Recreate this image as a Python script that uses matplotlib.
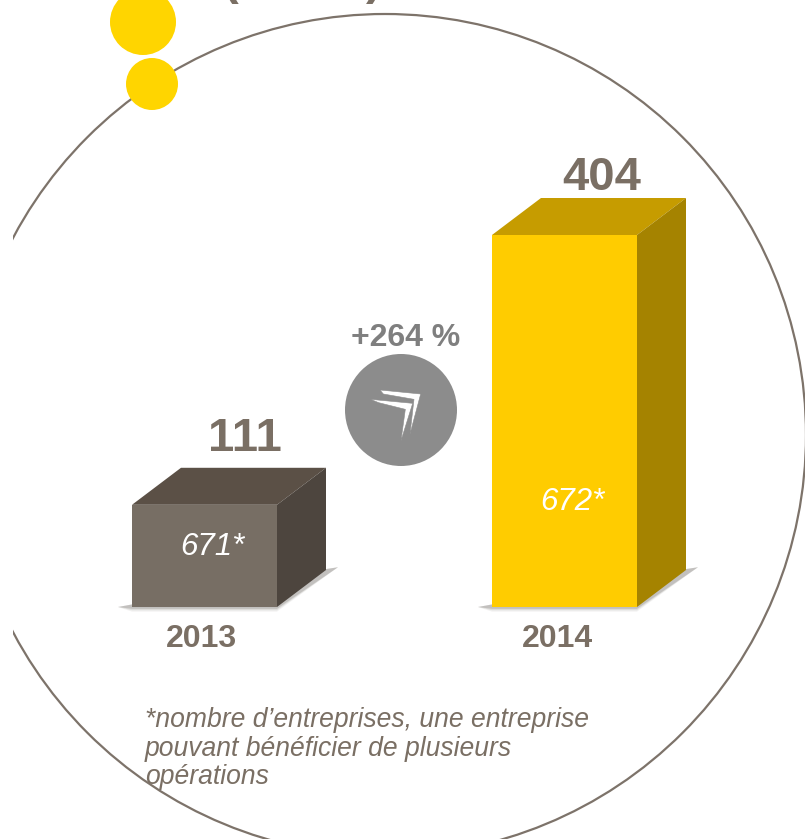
import matplotlib
matplotlib.use("Agg")
import matplotlib.pyplot as plt
from matplotlib.patches import Circle, Polygon, Rectangle

years = ["2013", "2014"]
amounts = [111, 404]
companies = ["671*", "672*"]
growth_label = "+264 %"
footnote = "*nombre d\u2019entreprises, une entreprise\npouvant b\u00e9n\u00e9ficier de plusieurs\nop\u00e9rations"

front_colors = ["#776e64", "#ffcc00"]
top_colors = ["#5b5046", "#c69c00"]
side_colors = ["#4d453e", "#a58300"]

TEXT = "#7a6f64"
W, H = 805, 839
BASE_Y = 607
PX_PER_UNIT = 372 / 404
DEPTH_X, DEPTH_Y = 49, 37
BAR_WIDTH = 145

# text placement per bar, in pixels
bar_left = [132, 492]
amount_x = [245, 602]
amount_gap = [17, 8]
inner_x = [212, 572]
inner_base = [555, 510]
year_x = [201, 557]

plt.rcParams["font.family"] = ["Liberation Sans", "DejaVu Sans"]

fig = plt.figure(figsize=(W / 100, H / 100), dpi=100, facecolor="white")

# pixel axes for the decoration, value axes for the bars
deco = fig.add_axes([0, 0, 1, 1])
deco.set_xlim(0, W)
deco.set_ylim(H, 0)
deco.axis("off")

ax = fig.add_axes([0, 0, 1, 1])
ax.patch.set_alpha(0)
ax.set_xlim(0, W)
ax.set_ylim(-(H - BASE_Y) / PX_PER_UNIT, BASE_Y / PX_PER_UNIT)
ax.axis("off")


def to_value(py):
    return (BASE_Y - py) / PX_PER_UNIT


# big outline, cut off on the left
ring = Circle((385, 435), 421, fill=False, ec="#7d736a", lw=1.6, zorder=1)
deco.add_patch(ring)
ring.set_clip_path(Rectangle((13, 0), W, H, transform=deco.transData))

deco.add_patch(Circle((143, 22), 33, fc="#ffd500", ec="none", zorder=2))
deco.add_patch(Circle((152, 84), 26, fc="#ffd500", ec="none", zorder=2))

# bottoms of the title brackets, the rest is off the page
deco.text(230, -6, "(", fontsize=34, fontweight="bold", color=TEXT, ha="center", va="baseline")
deco.text(374, -6, ")", fontsize=34, fontweight="bold", color=TEXT, ha="center", va="baseline")

depth_units = DEPTH_Y / PX_PER_UNIT
for i, value in enumerate(amounts):
    x0 = bar_left[i]
    x1 = x0 + BAR_WIDTH

    # soft shadow on the floor
    for grow, alpha in [(5, 0.08), (3.5, 0.12), (2, 0.2)]:
        ax.add_patch(Polygon(
            [(x0 - 14, 0), (x0, -grow), (x1, -grow), (x1 + DEPTH_X + 12, depth_units + 3), (x1 + DEPTH_X, depth_units + 1)],
            closed=True, fc="#55504a", ec="none", alpha=alpha, zorder=2,
        ))

    ax.bar(x0, value, width=BAR_WIDTH, align="edge", color=front_colors[i], zorder=4)
    ax.add_patch(Polygon(
        [(x0, value), (x0 + DEPTH_X, value + depth_units), (x1 + DEPTH_X, value + depth_units), (x1, value)],
        closed=True, fc=top_colors[i], ec="none", zorder=3,
    ))
    ax.add_patch(Polygon(
        [(x1, 0), (x1 + DEPTH_X, depth_units), (x1 + DEPTH_X, value + depth_units), (x1, value)],
        closed=True, fc=side_colors[i], ec="none", zorder=3,
    ))

    ax.text(amount_x[i], value + depth_units + amount_gap[i] / PX_PER_UNIT, str(value), fontsize=34,
            fontweight="bold", color=TEXT, ha="center", va="baseline", zorder=5)
    ax.text(inner_x[i], to_value(inner_base[i]), companies[i], fontsize=22.5, style="italic",
            color="white", ha="center", va="baseline", zorder=5)
    ax.text(year_x[i], to_value(647), years[i], fontsize=23,
            fontweight="bold", color=TEXT, ha="center", va="baseline", zorder=5)

# growth badge
deco.add_patch(Circle((401, 410), 56, fc="#8c8c8c", ec="none", zorder=2))
deco.text(406, 346, growth_label, fontsize=23, fontweight="bold", color="#7f7f7f", ha="center", va="baseline")
chevrons = [
    [(150, 240), (272, 252), (240, 372), (252, 268), (160, 252)],
    [(122, 268), (248, 280), (213, 392), (226, 298), (146, 278)],
]
for shape in chevrons:
    pts = [(330 + px / 3, 310 + py / 3) for px, py in shape]
    deco.add_patch(Polygon(pts, closed=True, fc="white", ec="#8c8c8c", lw=0.4, zorder=3))

deco.text(145, 707, footnote, fontsize=19.1, style="italic", color=TEXT, ha="left", va="top",
          linespacing=1.13, zorder=5)

fig.savefig("out.png", dpi=100)
